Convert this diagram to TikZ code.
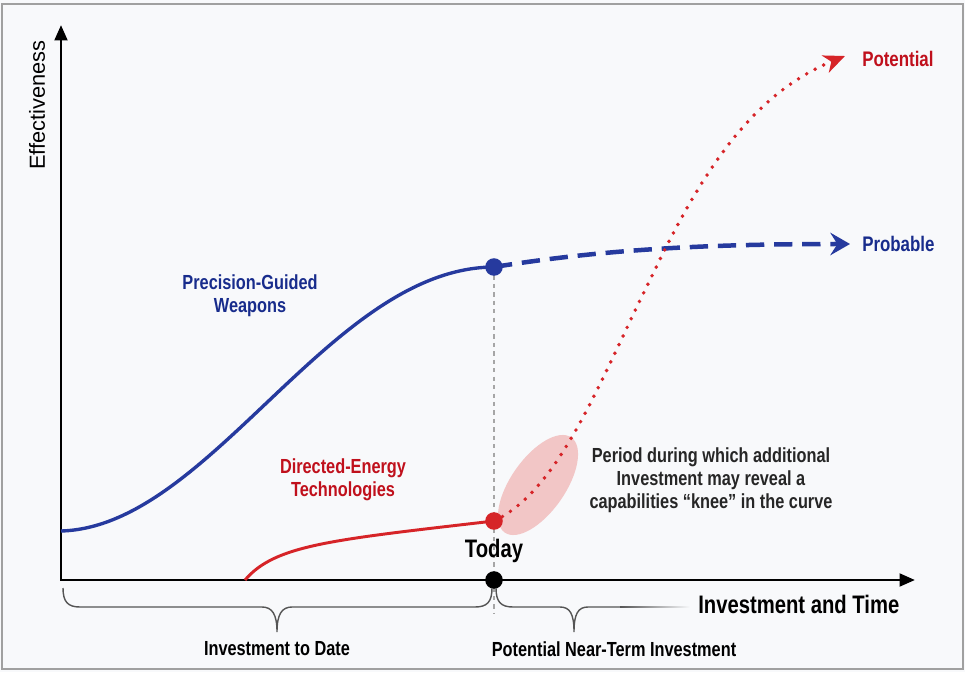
\documentclass[tikz,border=0pt]{standalone}
\usepackage{fontspec}
\setmainfont{Liberation Sans}[FakeStretch=0.8]
\newfontfamily\axisfont{Liberation Sans}
\usetikzlibrary{arrows.meta}
\definecolor{pgwblue}{RGB}{38,58,158}
\definecolor{pgwtext}{RGB}{24,44,140}
\definecolor{dered}{RGB}{214,36,40}
\definecolor{detext}{RGB}{192,16,28}
\definecolor{kneepink}{RGB}{242,198,198}
\definecolor{bgpaper}{RGB}{248,249,251}
\definecolor{framegray}{RGB}{160,160,160}
\definecolor{bracegray}{RGB}{85,85,85}
\tikzset{
  axisline/.style={line width=2.1pt, {Triangle[length=11pt,width=9pt]}-{Triangle[length=11pt,width=9pt]}},
  blob/.style={circle, fill=#1, inner sep=0pt, minimum size=12.5pt},
  lbl/.style={font=\bfseries\fontsize{14.5}{16.3}\selectfont, align=center, inner sep=0pt},
  biglbl/.style={font=\bfseries\fontsize{18}{20}\selectfont, inner sep=0pt},
  endlbl/.style={font=\bfseries\fontsize{15}{17}\selectfont, inner sep=0pt, anchor=west},
  bracepath/.style={draw=bracegray, line width=1pt},
}
\begin{document}
\begin{tikzpicture}[x=0.025cm, y=0.025cm]
\useasboundingbox (0,0) rectangle (965,672);
\fill[bgpaper] (0,0) rectangle (965,672);
\draw[framegray, line width=1.6pt] (2,3) rectangle (963,668);
% points
\coordinate (origin) at (61,92);
\coordinate (ytop) at (61,647);
\coordinate (xend) at (915,92);
\coordinate (today) at (494,92);
\coordinate (pgwstart) at (61,141);
\coordinate (pgwnow) at (494,405);
\coordinate (probend) at (850,428);
\coordinate (destart) at (245,92);
\coordinate (denow) at (494,151);
\coordinate (kneemid) at (650,392);
\coordinate (potend) at (845,616);
\coordinate (knee) at (538,187);
\coordinate (guideend) at (494,58);
% knee area
\fill[kneepink, rotate around={55:(knee)}] (knee) ellipse [x radius=1.45cm, y radius=0.68cm];
% today line
\draw[gray!70, dashed, line width=0.8pt] (pgwnow) -- (guideend);
% axes
\draw[axisline] (ytop) -- (origin) -- (xend);
\node[rotate=90, font=\axisfont\fontsize{15.5}{17}\selectfont] (efflabel) at (37,567) {Effectiveness};
% precision-guided weapons
\draw[pgwblue, line width=2.4pt] (pgwstart) .. controls (210,145) and (330,404) .. (pgwnow);
\draw[pgwblue, line width=3.2pt, dash pattern=on 13pt off 7pt, -{Stealth[length=14pt,width=16pt,inset=5pt]}]
  (pgwnow) .. controls (600,422) and (700,428) .. (probend);
% directed energy
\draw[dered, line width=2.1pt] (destart) .. controls (275,127) and (330,132) .. (denow);
\draw[dered, line width=2.8pt, line cap=round, dash pattern=on 0pt off 6.8pt, -{Stealth[length=15pt,width=13pt,inset=4.5pt]}]
  (denow) .. controls (560,182) and (600,292) .. (kneemid) .. controls (700,497) and (750,577) .. (potend);
% dots
\node[blob=pgwblue] (pgwdot) at (pgwnow) {};
\node[blob=dered] (dedot) at (denow) {};
\node[blob=black] (todaydot) at (today) {};
% braces
\draw[bracepath] (63,84) .. controls (63,70) and (68,65) .. (80,65) -- (262,65) .. controls (272,65) and (277,58) .. (277,40)
  .. controls (277,58) and (282,65) .. (292,65) -- (475,65) .. controls (487,65) and (492,70) .. (492,84);
\draw[bracepath] (496,84) .. controls (496,70) and (501,65) .. (513,65) -- (560,65) .. controls (570,65) and (574,58) .. (574,40)
  .. controls (574,58) and (578,65) .. (588,65) -- (620,65);
\shade[left color=bracegray, right color=bgpaper] (620,64.3) rectangle (690,65.7);
% labels
\node[lbl, text=pgwtext] (pgwlabel) at (250,376) {Precision-Guided\\Weapons};
\node[lbl, text=detext] (delabel) at (343,192) {Directed-Energy\\Technologies};
\node[lbl, text=black!85] (kneelabel) at (711,192) {Period during which additional\\Investment may reveal a\\capabilities “knee” in the curve};
\node[biglbl] (todaylabel) at (494,121) {Today};
\node[biglbl, anchor=west] (xlabel) at (698,68) {Investment and Time};
\node[lbl] (datelabel) at (277,23) {Investment to Date};
\node[lbl] (nearlabel) at (614,23) {Potential Near-Term Investment};
\node[endlbl, text=detext] (potlabel) at (862,613) {Potential};
\node[endlbl, text=pgwtext] (problabel) at (862,428) {Probable};
\end{tikzpicture}
\end{document}
